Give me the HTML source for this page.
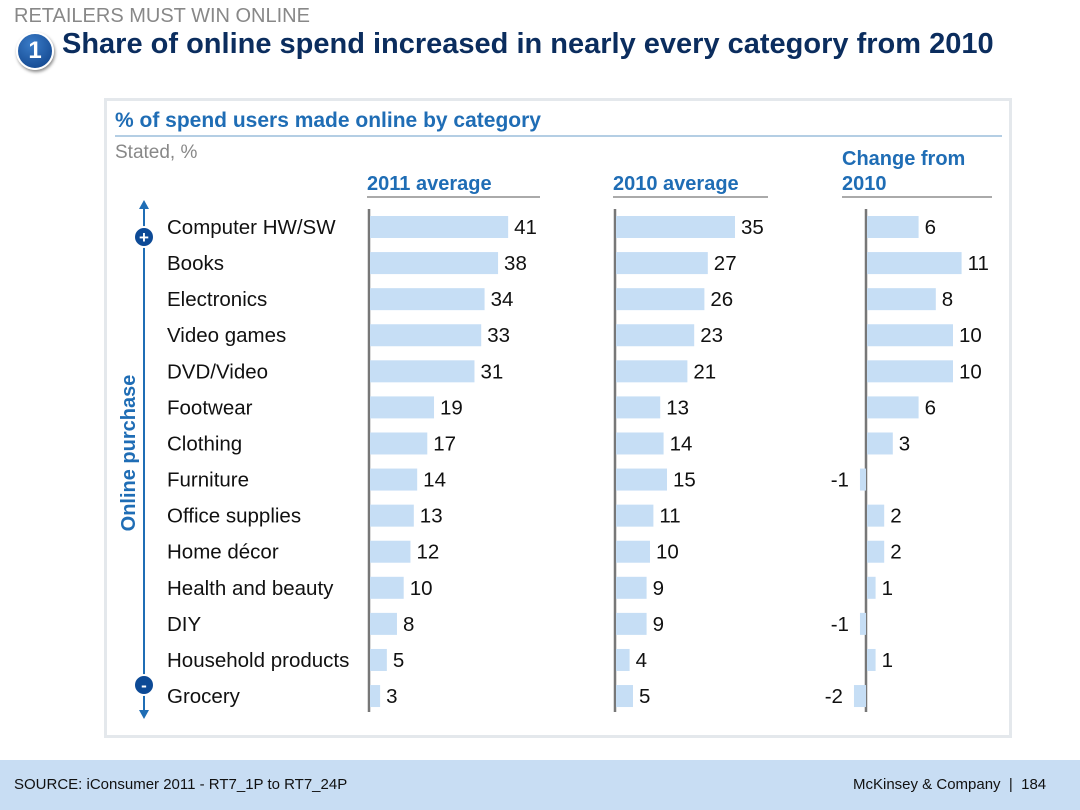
<!DOCTYPE html>
<html><head><meta charset="utf-8"><style>
body{margin:0;width:1080px;height:810px;background:#fff;font-family:"Liberation Sans",sans-serif;overflow:hidden;position:relative}
.abs{position:absolute}
</style></head><body>
<div class="abs" style="left:14px;top:5px;font-size:20px;color:#888">RETAILERS MUST WIN ONLINE</div>
<div class="abs" style="left:16px;top:32px;width:34px;height:34px;border-radius:50%;background:radial-gradient(circle at 40% 30%,#3a7cc8,#0d3f86);border:2px solid #fff;box-shadow:1px 2px 3px #888;color:#fff;font-weight:bold;font-size:24px;text-align:center;line-height:34px">1</div>
<div class="abs" style="left:62px;top:28px;font-size:29px;font-weight:bold;color:#0b2d5e">Share of online spend increased in nearly every category from 2010</div>
<div class="abs" style="left:104px;top:98px;width:908px;height:640px;border:3px solid #e4e8ec;box-sizing:border-box"></div>
<div class="abs" style="left:0;top:760px;width:1080px;height:50px;background:#c8ddf3"></div>
<div class="abs" style="left:14px;top:776px;font-size:15px;color:#111">SOURCE: iConsumer 2011 - RT7_1P to RT7_24P</div>
<div class="abs" style="left:853px;top:776px;font-size:15px;color:#111">McKinsey &amp; Company &nbsp;|&nbsp; 184</div>
<svg class="abs" style="left:0;top:0" width="1080" height="810" id="chart"></svg>
<script>
const categories=["Computer HW/SW","Books","Electronics","Video games","DVD/Video","Footwear","Clothing","Furniture","Office supplies","Home décor","Health and beauty","DIY","Household products","Grocery"];
const values2011=[41,38,34,33,31,19,17,14,13,12,10,8,5,3];
const values2010=[35,27,26,23,21,13,14,15,11,10,9,9,4,5];
const changes=[6,11,8,10,10,6,3,-1,2,2,1,-1,1,-2];
const svg=document.getElementById('chart');
const NS='http://www.w3.org/2000/svg';
function el(t,a,txt){const e=document.createElementNS(NS,t);for(const k in a)e.setAttribute(k,a[k]);if(txt!==undefined)e.textContent=txt;svg.appendChild(e);return e;}
const rowY=i=>227+i*36.08;
function t(x,y,s,o){return el('text',Object.assign({x:x,y:y,'font-family':'Liberation Sans, sans-serif','font-size':20.5,fill:'#111'},o||{}),s);}
let e;
e=t(115,127,'% of spend users made online by category',{fill:'#1f6db5','font-weight':'bold','font-size':21});


el('line',{x1:115,y1:136,x2:1002,y2:136,stroke:'#6a9cc8','stroke-width':1});
e=t(115,158,'Stated, %',{fill:'#888','font-size':19});


const panels=[{x0:370,sc:3.37,vals:values2011,hdr:['2011 average'],hx:367,ux:540},{x0:616,sc:3.4,vals:values2010,hdr:['2010 average'],hx:613,ux:768},{x0:867,sc:8.6,vals:changes,hdr:['Change from','2010'],hx:842,ux:992}];
panels.forEach((p,pi)=>{
  p.hdr.forEach((h,k)=>{const tt=t(p.hx,p.hdr.length==2?165+k*25:190,h,{fill:'#1f6db5','font-weight':'bold','font-size':20});
    
    });
  el('line',{x1:p.hx,y1:197,x2:p.ux,y2:197,stroke:'#555','stroke-width':1});
  const ax=el('line',{x1:p.x0-1,y1:209,x2:p.x0-1,y2:712,stroke:'#777','stroke-width':2.5});
  
  
  p.vals.forEach((v,i)=>{
    const y=rowY(i);const w=Math.abs(v)*(v<0?p.sc*0.7:p.sc);const x=v>=0?p.x0:p.x0-1-w;
    const r=el('rect',{x:x,y:y-11,width:w,height:22,fill:'#c6def5'});
    
    
    const lb=v>=0?t(p.x0+w+6,y+7,String(v)):t(p.x0-12-w,y+7,String(v),{'text-anchor':'end'});
    
    
  });
});
categories.forEach((c,i)=>{const tt=t(167,rowY(i)+7,c);
  
  });
el('line',{x1:144,y1:208,x2:144,y2:712,stroke:'#1f6db5','stroke-width':2});
el('polygon',{points:'139,209 149,209 144,200',fill:'#1f6db5'});
el('polygon',{points:'139,710 149,710 144,719',fill:'#1f6db5'});
[[237,'+'],[685,'-']].forEach(([y,s])=>{
  const c=el('circle',{cx:144,cy:y,r:10,fill:'#0d4a96',stroke:'#fff','stroke-width':2});
  
  
  t(144,y+6,s,{fill:'#fff','font-weight':'bold','font-size':17,'text-anchor':'middle'});
});
e=t(0,0,'Online purchase',{fill:'#1f6db5','font-weight':'bold','font-size':20,'text-anchor':'middle',transform:'translate(135,453) rotate(-90)'});


</script>
</body></html>
